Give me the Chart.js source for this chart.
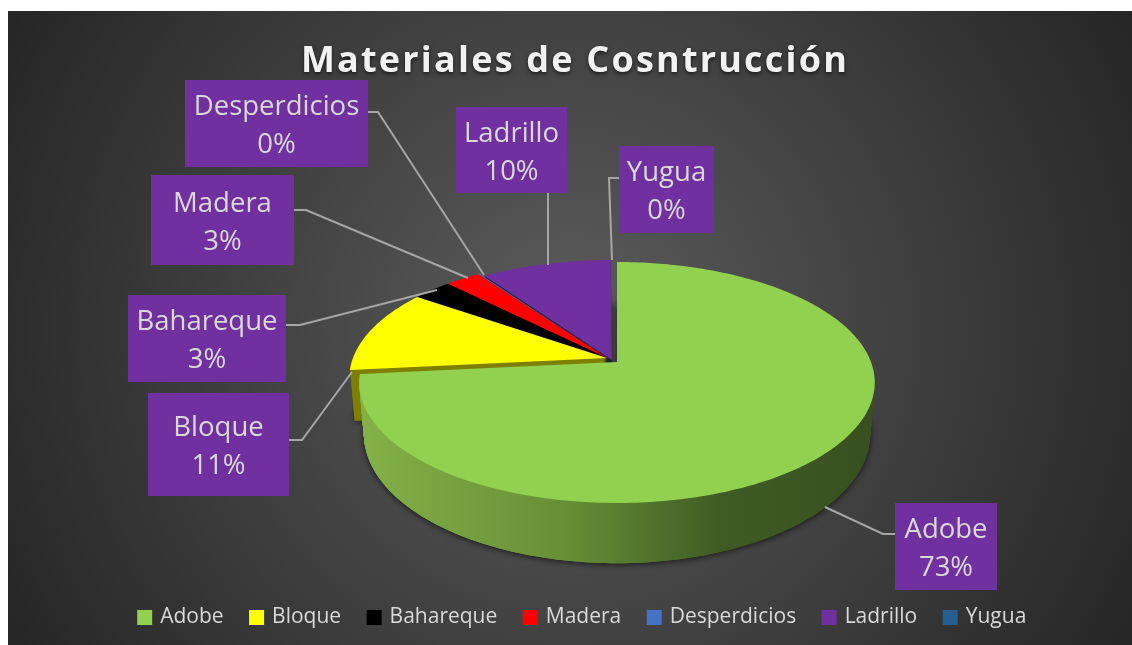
<!DOCTYPE html>
<html>
<head>
<meta charset="utf-8">
<title>Materiales de Cosntrucción</title>
<script src="https://cdn.jsdelivr.net/npm/chart.js@4"></script>
<style>
    html, body { margin: 0; padding: 0; background: #fff; overflow: hidden; }
    canvas { display: block; }
</style>
</head>
<body>
<canvas id="pieChart" width="1132" height="645"></canvas>
<script>
const categories = ['Adobe', 'Bloque', 'Bahareque', 'Madera', 'Desperdicios', 'Ladrillo', 'Yugua'];
const values = [73.4, 11.3, 2.9, 2.6, 0.1, 9.6, 0.1];
const sliceColors = ['#92d050', '#ffff00', '#000000', '#ff0000', '#4472c4', '#7030a0', '#255e91'];
const wallColors = ['#6a9338', '#7f7f00', '#000000', '#800000', '#22395f', '#20203a', '#132f49'];

const FONT = '"Open Sans", sans-serif';
const TEXT = '#d9d9d9';

// pie projection, canvas pixels (excel style tilt with perspective)
const pie = { cx: 617, cy: 362, rx: 254, ry: 117, k: 0.17, depth: 50, narrow: 0.018 };
const explode = [[0, 0], [-10, -4], [-10, -4], [-10, -4], [-10, -4], [-5, -2], [-5, -2]];

// callout boxes: x1, y1, x2, y2, then the leader line
const callouts = [
    { box: [895, 503, 997, 590], line: [[895, 534], [883, 534], [825, 507]] },
    { box: [148, 393, 289, 496], line: [[289, 440], [302, 440], [352, 372]] },
    { box: [128, 295, 286, 382], line: [[286, 325], [300, 325], [437, 290]] },
    { box: [151, 175, 294, 265], line: [[294, 210], [306, 210], [468, 278]] },
    { box: [185, 80, 368, 167], line: [[368, 112], [378, 112], [484, 275]] },
    { box: [456, 107, 567, 193], line: [[548, 193], [548, 265]] },
    { box: [619, 146, 714, 233], line: [[619, 178], [609, 178], [612, 260]] }
];

function project(angle, radius, shift, z) {
    const x = Math.cos(angle) * radius;
    const y = Math.sin(angle) * radius;
    const w = 1 - pie.k * y;
    return [
        pie.cx + shift[0] + pie.rx * (1 - pie.narrow * z) * x / w,
        pie.cy + shift[1] + pie.ry * y / w + z * pie.depth / w
    ];
}

function slicePath(ctx, arc, shift, z) {
    ctx.beginPath();
    let p = project(0, 0, shift, z);
    ctx.moveTo(p[0], p[1]);
    const steps = Math.max(2, Math.ceil((arc.endAngle - arc.startAngle) * 60));
    for (let i = 0; i <= steps; i++) {
        const a = arc.startAngle + (arc.endAngle - arc.startAngle) * i / steps;
        p = project(a, 1, shift, z);
        ctx.lineTo(p[0], p[1]);
    }
    ctx.closePath();
}

function drawWall(ctx, arc, i, fill) {
    ctx.fillStyle = fill;
    ctx.shadowColor = 'rgba(0,0,0,0.7)';
    ctx.shadowBlur = 7;
    ctx.shadowOffsetY = 1;
    slicePath(ctx, arc, explode[i], 1);
    ctx.fill();
    ctx.shadowColor = 'transparent';
    ctx.shadowBlur = 0;
    ctx.shadowOffsetY = 0;
    for (let z = 1; z >= 0; z -= 1 / 60) {
        slicePath(ctx, arc, explode[i], z);
        ctx.fill();
    }
}

const pie3d = {
    id: 'pie3d',
    afterInit(chart) {
        // title gets letter spacing and a soft shadow
        const title = chart.titleBlock;
        const drawTitle = title.draw.bind(title);
        title.draw = function () {
            const ctx = chart.ctx;
            ctx.save();
            ctx.translate(-8, 0);
            ctx.letterSpacing = '2.2px';
            ctx.shadowColor = 'rgba(0,0,0,0.6)';
            ctx.shadowBlur = 4;
            ctx.shadowOffsetY = 2;
            drawTitle();
            ctx.restore();
        };
    },
    beforeDraw(chart) {
        const ctx = chart.ctx;
        ctx.save();
        ctx.fillStyle = '#ffffff';
        ctx.fillRect(0, 0, chart.width, chart.height);
        const bg = ctx.createRadialGradient(570, 328, 0, 570, 328, 640);
        bg.addColorStop(0, '#5c5c5c');
        bg.addColorStop(1, '#262626');
        ctx.fillStyle = bg;
        ctx.fillRect(8, 11, chart.width - 8, chart.height - 11);
        ctx.restore();
    },
    beforeDatasetDraw(chart) {
        const ctx = chart.ctx;
        const arcs = chart.getDatasetMeta(0).data;
        ctx.save();

        // the exploded slices first, the big one goes on top of them
        for (let i = arcs.length - 1; i > 0; i--) drawWall(ctx, arcs[i], i, wallColors[i]);
        for (let i = arcs.length - 1; i > 0; i--) {
            ctx.fillStyle = sliceColors[i];
            slicePath(ctx, arcs[i], explode[i], 0);
            ctx.fill();
        }

        const wall = ctx.createLinearGradient(360, 0, 875, 0);
        wall.addColorStop(0, '#84b148');
        wall.addColorStop(0.4, '#668f36');
        wall.addColorStop(0.7, '#3f5c25');
        wall.addColorStop(1, '#384f1f');
        drawWall(ctx, arcs[0], 0, wall);
        ctx.fillStyle = sliceColors[0];
        slicePath(ctx, arcs[0], explode[0], 0);
        ctx.fill();

        ctx.restore();
        return false;
    },
    afterDatasetsDraw(chart) {
        const ctx = chart.ctx;
        const total = values.reduce((a, b) => a + b, 0);
        ctx.save();
        ctx.strokeStyle = '#a6a6a6';
        ctx.lineWidth = 2;
        callouts.forEach(c => {
            ctx.beginPath();
            c.line.forEach((p, j) => j ? ctx.lineTo(p[0], p[1]) : ctx.moveTo(p[0], p[1]));
            ctx.stroke();
        });
        ctx.font = '27.5px ' + FONT;
        ctx.textAlign = 'center';
        ctx.textBaseline = 'middle';
        callouts.forEach((c, i) => {
            const [x1, y1, x2, y2] = c.box;
            ctx.fillStyle = '#7030a0';
            ctx.fillRect(x1, y1, x2 - x1, y2 - y1);
            ctx.fillStyle = TEXT;
            const mx = (x1 + x2) / 2;
            const my = (y1 + y2) / 2;
            ctx.fillText(categories[i], mx, my - 16);
            ctx.fillText(Math.round(values[i] / total * 100) + '%', mx, my + 22);
        });
        ctx.restore();
    }
};

new Chart(document.getElementById('pieChart').getContext('2d'), {
    type: 'pie',
    data: {
        labels: categories,
        datasets: [{ data: values, backgroundColor: sliceColors, borderWidth: 0 }]
    },
    options: {
        responsive: false,
        animation: false,
        layout: { padding: { left: 34, top: 11, bottom: 7 } },
        plugins: {
            tooltip: { enabled: false },
            title: {
                display: true,
                text: 'Materiales de Cosntrucción',
                color: '#f2f2f2',
                font: { family: FONT, size: 36, weight: 'bold' },
                padding: { top: 29, bottom: 1 }
            },
            legend: {
                position: 'bottom',
                labels: {
                    color: TEXT,
                    font: { family: FONT, size: 21 },
                    boxWidth: 10,
                    boxHeight: 10,
                    padding: 28,
                    generateLabels() {
                        return categories.map((name, i) => ({
                            text: name,
                            fillStyle: sliceColors[i],
                            strokeStyle: sliceColors[i],
                            fontColor: TEXT,
                            lineWidth: 5,
                            index: i
                        }));
                    }
                }
            }
        }
    },
    plugins: [pie3d]
});
</script>
</body>
</html>
